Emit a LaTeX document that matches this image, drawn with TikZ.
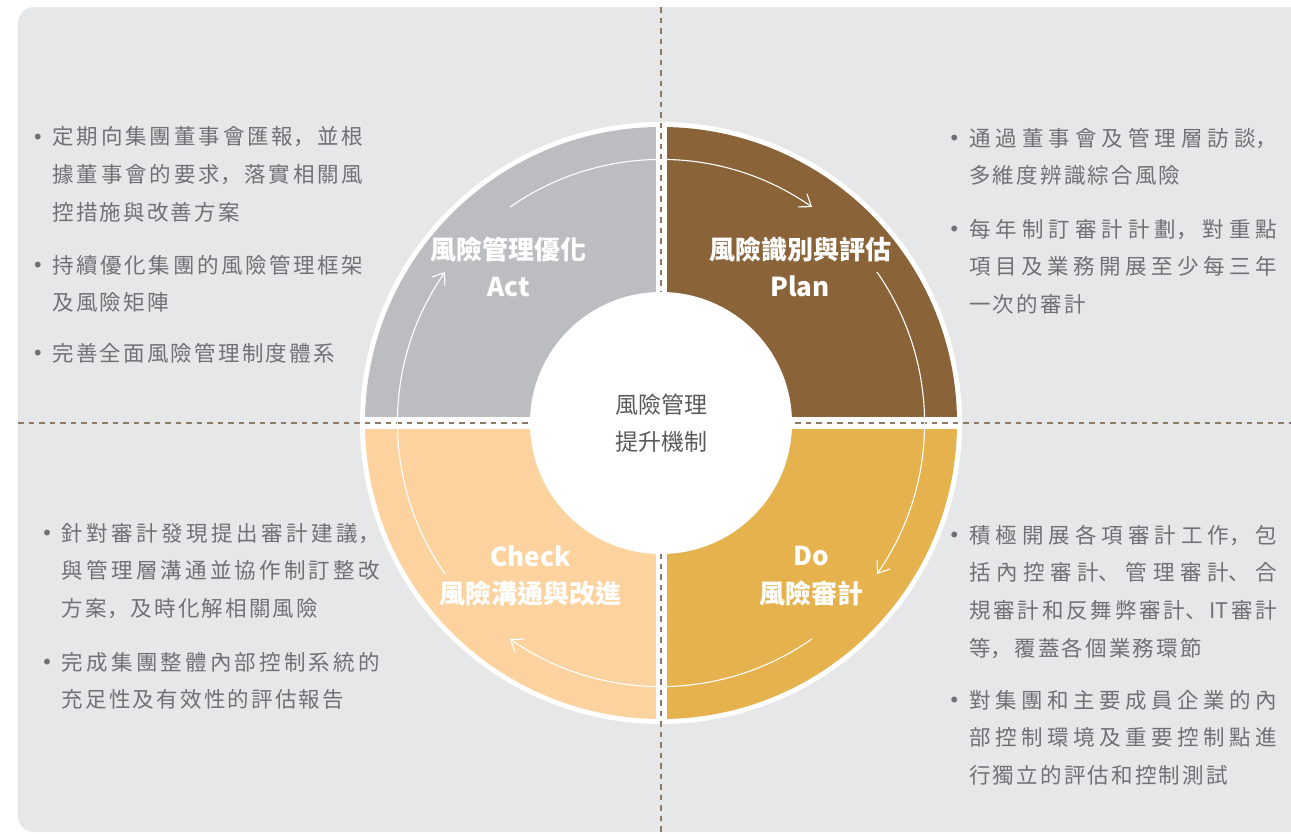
\documentclass[tikz,border=0pt]{standalone}
\usepackage{fontspec}
\setmainfont{Noto Sans CJK TC}
\newfontfamily\cjk{Noto Sans CJK TC}
\newfontfamily\cjkjp{Noto Sans CJK JP}
\usetikzlibrary{arrows.meta}

\definecolor{bggray}{HTML}{E6E7E8}
\definecolor{actcol}{HTML}{BCBDC0}
\definecolor{plancol}{HTML}{8B6338}
\definecolor{docol}{HTML}{E5B24E}
\definecolor{checkcol}{HTML}{FCD39E}
\definecolor{dashcol}{HTML}{8E7A64}
\definecolor{txtgray}{HTML}{707174}
\definecolor{coregray}{HTML}{595A5C}

\newcommand\labfont{\cjk\bfseries\fontsize{26}{37.5}\selectfont}
\newcommand\corefont{\cjk\fontsize{23}{36.5}\selectfont}
\newcommand\bulfont{\cjkjp\fontsize{21.5}{37.7}\selectfont
  \XeTeXlinebreaklocale "zh"\XeTeXlinebreakskip=2.2pt plus 1fil\relax\parindent=0pt}
\newcommand\bul{\leavevmode\parfillskip=0pt plus 1fill\relax
  \llap{\makebox[18pt][l]{\fontsize{6.5}{6.5}\selectfont\raisebox{5.5pt}{●}}}}
\newcommand\eul{\par}

\begin{document}
\begin{tikzpicture}[x=1pt, y=1pt]
\useasboundingbox (0,0) rectangle (1291,-833);
\clip (0,0) rectangle (1291,-833);
\fill[bggray, rounded corners=16] (18,-7) rectangle (1320,-832);

% ring
\coordinate (c) at (661,-423);
\fill[white] (c) circle (301);
\fill[actcol] (c) -- ++(180:296) arc[start angle=180, end angle=90, radius=296] -- cycle;
\fill[plancol] (c) -- ++(90:296) arc[start angle=90, end angle=0, radius=296] -- cycle;
\fill[docol] (c) -- ++(0:296) arc[start angle=0, end angle=-90, radius=296] -- cycle;
\fill[checkcol] (c) -- ++(-90:296) arc[start angle=-90, end angle=-180, radius=296] -- cycle;
\fill[white] (655.5,-123) rectangle (666.5,-723);
\fill[white] (361,-417) rectangle (961,-429);

% dashed cross
\begin{scope}[dashcol, line width=1.3pt, dash pattern=on 5.5pt off 5pt]
    \draw (661,-7) -- (661,-833);
    \draw (18,-423) -- (1291,-423);
\end{scope}
\fill[white] (c) circle (131);

% cycle arrows
\path (c) ++(125:263.5) coordinate (t1);
\path (c) ++(35:263.5) coordinate (t2);
\path (c) ++(-55:263.5) coordinate (t3);
\path (c) ++(215:263.5) coordinate (t4);
\begin{scope}[>={Straight Barb[length=11pt,width=16pt]}, white, line width=1.1pt]
    \draw [->] (t1) arc[start angle=125, end angle=55, radius=263.5];
    \draw [->] (t2) arc[start angle=35, end angle=-35, radius=263.5];
    \draw [->] (t3) arc[start angle=-55, end angle=-125, radius=263.5];
    \draw [->] (t4) arc[start angle=215, end angle=145, radius=263.5];
\end{scope}

\begin{scope}[every node/.style={align=center, inner sep=0pt, text=white, font=\labfont}]
    \node (1) at (661, -423) [text=coregray, font=\corefont] {風險管理\\提升機制};

    \node (2) at (508.5, -267) {風險管理優化\\Act};
    \node (3) at (800, -267) {風險識別與評估\\Plan};
    \node (4) at (811.5, -576) {Do\\風險審計};
    \node (5) at (530.5, -576) {Check\\風險溝通與改進};
\end{scope}

\begin{scope}[every node/.style={anchor=base west, inner sep=0pt, align=justify, text=txtgray, font=\bulfont}]
    % Act
    \node (6) at (52.3, -144.7) [text width=311] {\bul 定期向集團董事會匯報，並根\linebreak
        據董事會的要求，落實相關風\linebreak
        控措施與改善方案\eul};
    \node (7) at (52.3, -273) [text width=311] {\bul 持續優化集團的風險管理框架\linebreak
        及風險矩陣\eul};
    \node (8) at (52.3, -361) [text width=311] {\bul 完善全面風險管理制度體系\eul};

    % Plan
    \node (9) at (969, -146) [text width=308] {\bul 通過董事會及管理層訪談，\linebreak
        多維度辨識綜合風險\eul};
    \node (10) at (969, -237) [text width=308] {\bul 每年制訂審計計劃，對重點\linebreak
        項目及業務開展至少每三年\linebreak
        一次的審計\eul};

    % Check
    \node (11) at (61.7, -541) [text width=318] {\bul 針對審計發現提出審計建議，\linebreak
        與管理層溝通並協作制訂整改\linebreak
        方案，及時化解相關風險\eul};
    \node (12) at (61.7, -670) [text width=318] {\bul 完成集團整體內部控制系統的\linebreak
        充足性及有效性的評估報告\eul};

    % Do
    \node (13) at (969, -543) [text width=308] {\bul 積極開展各項審計工作，包\linebreak
        括內控審計、管理審計、合\linebreak
        規審計和反舞弊審計、IT審計\linebreak
        等，覆蓋各個業務環節\eul};
    \node (14) at (969, -708) [text width=308] {\bul 對集團和主要成員企業的內\linebreak
        部控制環境及重要控制點進\linebreak
        行獨立的評估和控制測試\eul};
\end{scope}
\end{tikzpicture}
\end{document}
